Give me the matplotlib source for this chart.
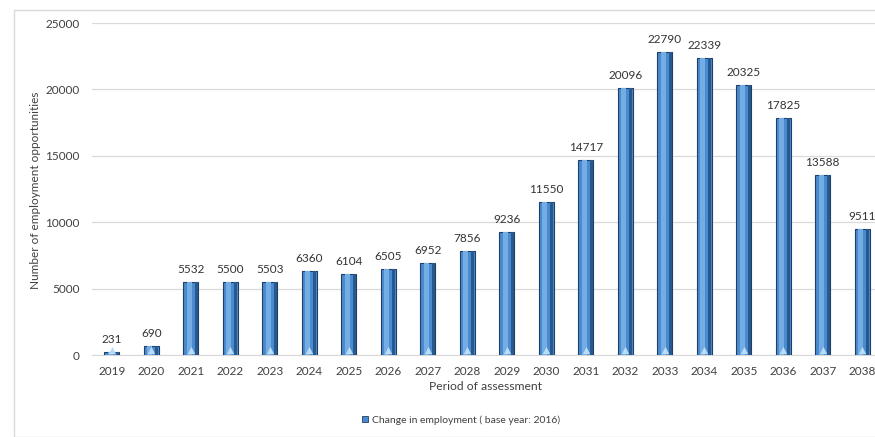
import matplotlib
matplotlib.use("Agg")
import matplotlib.pyplot as plt
from matplotlib.patches import Rectangle
import numpy as np

plt.rcParams['font.family'] = ['Lato', 'DejaVu Sans']

years = [str(y) for y in range(2019, 2039)]
employment = [231, 690, 5532, 5500, 5503, 6360, 6104, 6505, 6952, 7856,
              9236, 11550, 14717, 20096, 22790, 22339, 20325, 17825, 13588, 9511]
yticks = [0, 5000, 10000, 15000, 20000, 25000]

fig = plt.figure(figsize=(8.75, 4.37), dpi=100)
fig.patches.append(Rectangle((14 / 875, 0.0), 1.0, 1 - 10 / 437, transform=fig.transFigure,
                             fill=False, edgecolor='#d9d9d9', linewidth=1.0))

ax = fig.add_axes([92 / 875, 1 - 355 / 437, 790 / 875, (355 - 23) / 437])
x = np.arange(len(years))
w = 0.38

# cylinder-like bars: base body, light highlight, dark rim
ax.bar(x, employment, width=w, color='#4a8bcf', edgecolor='#1f3f66', linewidth=0.8, zorder=3)
ax.bar(x - w * 0.1, employment, width=w * 0.35, color='#74ace4', linewidth=0, zorder=4)
ax.bar(x + w * 0.36, employment, width=w * 0.18, color='#28598e', linewidth=0, zorder=4)
ax.scatter(x, [350] * len(x), marker='^', s=28, color='#b9dcf7', zorder=5, linewidths=0)

for xi, v in zip(x, employment):
    ax.annotate(str(v), (xi, v), xytext=(0, 5), textcoords='offset points',
                ha='center', va='bottom', fontsize=8.5, color='#333333')

ax.set_xlim(-0.5, len(years) - 0.5)
ax.set_ylim(0, 25000)
ax.set_yticks(yticks)
ax.set_yticklabels([str(t) for t in yticks])
ax.set_xticks(x)
ax.set_xticklabels(years)
ax.tick_params(axis='both', length=0, labelsize=8.5, colors='#404040', pad=8)
ax.tick_params(axis='y', pad=9)
ax.grid(axis='y', color='#d9d9d9', linewidth=0.9, zorder=0)
ax.set_axisbelow(True)
for s in ['top', 'right', 'left']:
    ax.spines[s].set_visible(False)
ax.spines['bottom'].set_color('#d9d9d9')

fig.text(36 / 875, 1 - 190 / 437, 'Number of employment opportunities', rotation=90,
         ha='center', va='center', fontsize=8.5, color='#404040')
fig.text(486 / 875, 1 - 386 / 437, 'Period of assessment', ha='center', va='center',
         fontsize=8.7, color='#404040')

legend_handle = Rectangle((0, 0), 1, 1, facecolor='#4a8bcf', edgecolor='#1f3f66', linewidth=0.6)
fig.legend([legend_handle], ['Change in employment ( base year: 2016)'],
           loc='center', bbox_to_anchor=(461 / 875, 1 - 420 / 437), frameon=False,
           fontsize=7.5, handlelength=0.6, handleheight=0.6, handletextpad=0.3,
           labelcolor='#404040')

fig.savefig('out.png', dpi=100)
